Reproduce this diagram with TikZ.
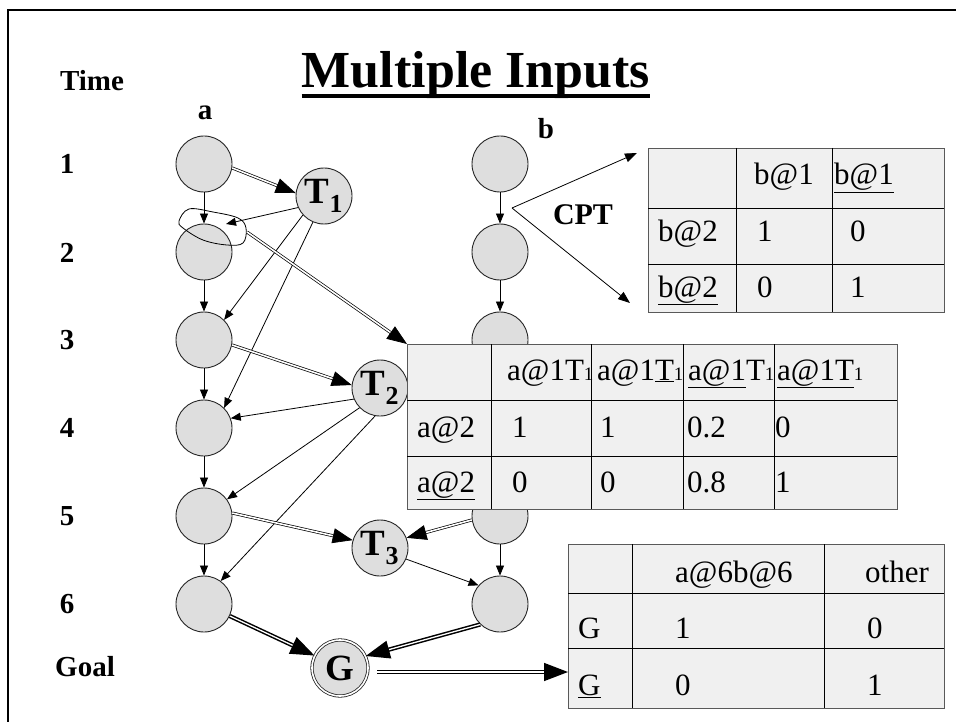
\documentclass[tikz,border=0pt]{standalone}
\usepackage{fontspec}
\setmainfont{Liberation Serif}
\usetikzlibrary{arrows.meta}
\newcommand\tabfnt{\fontsize{31}{36}\selectfont}
\newcommand\labfnt{\bfseries\fontsize{29}{33}\selectfont}
\newcommand\smallone{{\fontsize{19}{19}\selectfont 1}}
\begin{document}
\begin{tikzpicture}[x=1pt,y=-1pt,
  st/.style={circle,draw=black!85,fill=black!13,line width=0.9pt,minimum size=56pt,inner sep=0pt,font=\bfseries\fontsize{37}{37}\selectfont},
  tarr/.style={line width=0.8pt,-{Triangle[length=10pt,width=8pt]}},
  darr/.style={double,line width=0.7pt,double distance=1.6pt,-{Triangle[length=20pt,width=15pt]}},
  dthick/.style={double,line width=1.5pt,double distance=1.3pt,-{Triangle[length=24pt,width=18pt]}},
  tabbox/.style={draw=black!65,line width=1.2pt,fill=black!6,inner sep=0pt,anchor=north west},
  cell/.style={anchor=base west,inner sep=0pt,font=\tabfnt},
  lab/.style={anchor=base,inner sep=0pt,font=\labfnt},
  gridln/.style={line width=0.9pt,draw=black}]
\useasboundingbox (0,0) rectangle (956,722);
\fill[white] (0,0) rectangle (956,722);
\draw[line width=2.6pt] (8,722) -- (8,10) -- (956,10);

% title
\node[anchor=base,inner sep=0pt,font=\bfseries\fontsize{52}{52}\selectfont] (title) at (476,88) {Multiple Inputs};
\draw[line width=3.5pt] ([yshift=-8pt]title.base west) -- ([yshift=-8pt]title.base east);

% labels
\node[lab] (time) at (92,91) {Time};
\node[lab] (la) at (205,120) {a};
\node[lab] (lb) at (546,139) {b};
\node[lab] (n1) at (67,174) {1};
\node[lab] (n2) at (67,262) {2};
\node[lab] (n3) at (67,349) {3};
\node[lab] (n4) at (67,437) {4};
\node[lab] (n5) at (67,525) {5};
\node[lab] (n6) at (67,613) {6};
\node[lab] (goal) at (85,676) {Goal};
\node[lab,font=\bfseries\fontsize{30}{34}\selectfont] (cptl) at (583,225) {CPT};

% nodes
\node[st] (a1) at (204,164) {};
\node[st] (a2) at (204,252) {};
\node[st] (a3) at (204,340) {};
\node[st] (a4) at (204,428) {};
\node[st] (a5) at (204,516) {};
\node[st] (a6) at (204,604) {};
\node[st] (b1) at (500,164) {};
\node[st] (b2) at (500,252) {};
\node[st] (b3) at (500,340) {};
\node[st] (b4) at (500,428) {};
\node[st] (b5) at (500,516) {};
\node[st] (b6) at (500,604) {};
\node[st] (T1) at (324,196) {T\textsubscript{1}};
\node[st] (T2) at (380,388) {T\textsubscript{2}};
\node[st] (T3) at (380,548) {T\textsubscript{3}};
\node[st,double,double distance=1.6pt,line width=0.8pt] (G) at (340,668) {G};

% vertical arrows
\foreach \u/\v in {a1/a2,a2/a3,a3/a4,a4/a5,a5/a6,b1/b2,b2/b3,b3/b4,b4/b5,b5/b6}
  \draw[tarr] (\u) -- (\v);

% thin arrows from T nodes
\coordinate (a2in) at (226,224);
\draw[tarr] (T1.204) -- (a2in);
\draw[tarr] (T1.222) -- (a3.45);
\draw[tarr] (T1.247) -- (a4.45);
\draw[tarr] (T2.203) -- (a4.20);
\draw[tarr] (T2.224) -- (a5.36);
\draw[tarr] (T2.260) -- (a6.54);
\draw[tarr] (T3.337) -- (b6.139);

% double arrows
\draw[darr] (a1.352) -- (T1.174);
\draw[darr] (a3.350) -- (T2.174);
\draw[darr] (a5.6) -- (T3.164);
\draw[darr] (b5.188) -- (T3.21);
\draw[dthick] (a6.335) -- (G.154);
\draw[dthick] (b6.226) -- (G.25);

% loop
\draw[line width=0.8pt] plot[smooth cycle,tension=0.6] coordinates {(189,209) (213,212) (238,218) (246,228) (243,243) (227,245) (203,240) (183,228) (179,221)};
\coordinate (loopend) at (247,232);

% CPT arrows
\coordinate (cptapex) at (512,208);
\coordinate (cpttop) at (637,153);
\coordinate (cptbot) at (630,303);
\draw[line width=0.8pt,-{Triangle[length=12pt,width=9pt]}] (cptapex) -- (cpttop);
\draw[line width=0.8pt,-{Triangle[length=12pt,width=9pt]}] (cptapex) -- (cptbot);

% CPT table
\node[tabbox,minimum width=296pt,minimum height=164pt] (cpt) at (648,148) {};
\draw[gridln] (736,148) -- (736,312) (832,148) -- (832,312) (648,208) -- (944,208) (648,264) -- (944,264);
\node[cell] (c12) at (754,185) {b@1};
\node[cell] (c13) at (834,185) {\underline{b@1}};
\node[cell] (c21) at (658,242) {b@2};
\node[cell] (c22) at (757,242) {1};
\node[cell] (c23) at (850,242) {0};
\node[cell] (c31) at (658,297) {\underline{b@2}};
\node[cell] (c32) at (757,297) {0};
\node[cell] (c33) at (850,297) {1};

% big table
\node[tabbox,minimum width=490pt,minimum height=165pt] (btab) at (407,344) {};
\draw[gridln] (491,344) -- (491,509) (591,344) -- (591,509) (683,344) -- (683,509) (774,344) -- (774,509)
  (407,400) -- (897,400) (407,456) -- (897,456);
\node[cell] (d12) at (507,380) {a@1T\smallone};
\node[cell] (d13) at (597,380) {a@1\underline{T}\smallone};
\node[cell] (d14) at (688,380) {\underline{a@1}T\smallone};
\node[cell] (d15) at (777,380) {\underline{a@1T}\smallone};
\node[cell] (d21) at (417,437) {a@2};
\node[cell] (d22) at (512,437) {1};
\node[cell] (d23) at (600,437) {1};
\node[cell] (d24) at (687,437) {0.2};
\node[cell] (d25) at (775,437) {0};
\node[cell] (d31) at (417,492) {\underline{a@2}};
\node[cell] (d32) at (512,492) {0};
\node[cell] (d33) at (600,492) {0};
\node[cell] (d34) at (687,492) {0.8};
\node[cell] (d35) at (775,492) {1};

% goal table
\node[tabbox,minimum width=376pt,minimum height=164pt] (gtab) at (568,544) {};
\draw[gridln] (632,544) -- (632,708) (824,544) -- (824,708) (568,593) -- (944,593) (568,648) -- (944,648);
\node[cell] (e12) at (675,582) {a@6b@6};
\node[cell] (e13) at (865,582) {other};
\node[cell] (e21) at (578,638) {G};
\node[cell] (e22) at (675,638) {1};
\node[cell] (e23) at (867,638) {0};
\node[cell] (e31) at (578,695) {\underline{G}};
\node[cell] (e32) at (675,695) {0};
\node[cell] (e33) at (867,695) {1};

% arrows to tables
\draw[darr] (loopend) -- (btab.north west);
\coordinate (gstart) at (377,672);
\draw[dthick] (gstart) -- (gstart -| gtab.west);
\end{tikzpicture}
\end{document}
